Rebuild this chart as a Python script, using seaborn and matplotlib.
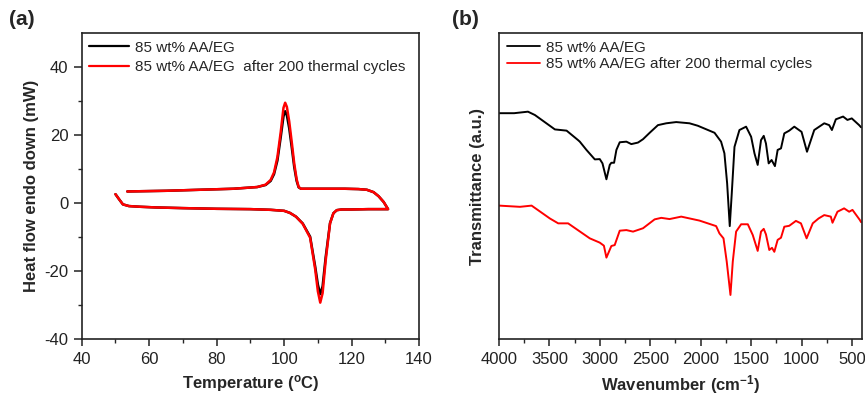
import numpy as np
import pandas as pd
import matplotlib
matplotlib.use("Agg")
import matplotlib.pyplot as plt
import seaborn as sns

# ---------------- DATA ----------------
# (a) DSC: heating (lower) curve, increasing temperature
dsc_heat_T = [50.0, 51.0, 52.2, 54.0, 57.3, 62, 70, 80, 90, 96, 100, 101.7, 103.5, 105.5,
              107.7, 109.2, 110.0, 110.7, 111.4, 112.3, 113.6, 114.6, 115.6, 117, 120, 125, 130.8]
dsc_heat_black = [2.6, 1.2, -0.4, -0.9, -1.1, -1.3, -1.5, -1.7, -1.8, -2.0, -2.3, -2.9, -4.0, -6.0,
                  -9.9, -18.7, -24.0, -26.8, -24.5, -16.0, -5.9, -3.0, -2.1, -1.9, -1.9, -1.8, -1.8]
dsc_heat_red = [2.6, 1.2, -0.4, -0.9, -1.1, -1.3, -1.5, -1.7, -1.8, -2.0, -2.3, -2.9, -4.0, -6.1,
                -10.2, -19.5, -26.0, -29.3, -26.5, -17.0, -6.0, -3.0, -2.1, -1.9, -1.9, -1.8, -1.8]
# cooling (upper) curve, decreasing temperature
dsc_cool_T = [130.8, 129.5, 128.0, 126.5, 124.5, 122, 118, 112, 106, 105.0, 104.3, 103.7, 103.0,
              102.3, 101.5, 100.8, 100.3, 99.8, 99.0, 98.0, 97.0, 96.0, 94.5, 92, 85, 75, 65, 53.5]
dsc_cool_black = [-1.8, 0.3, 2.0, 3.2, 3.9, 4.1, 4.2, 4.2, 4.2, 4.2, 4.6, 6.5, 10.5,
                  16.0, 22.0, 25.8, 27.0, 25.5, 19.5, 12.5, 8.5, 6.5, 5.3, 4.7, 4.2, 3.9, 3.6, 3.4]
dsc_cool_red = [-1.8, 0.3, 2.0, 3.2, 3.9, 4.1, 4.2, 4.2, 4.2, 4.2, 4.7, 7.0, 11.5,
                17.5, 24.0, 28.3, 29.5, 28.0, 21.0, 13.5, 9.0, 6.8, 5.4, 4.7, 4.2, 3.9, 3.6, 3.4]

# (b) FTIR: wavenumber (cm-1) and transmittance (a.u.)
ftir_wn_black = [4000, 3850, 3713, 3644, 3446, 3330, 3216, 3199, 3133, 3050, 3001, 2974, 2935,
                 2902, 2886, 2859, 2836, 2803, 2737, 2688, 2622, 2572, 2506, 2424, 2342, 2243,
                 2111, 2029, 1863, 1798, 1765, 1738, 1712, 1692, 1665, 1616, 1550, 1500, 1467,
                 1435, 1402, 1375, 1353, 1326, 1297, 1264, 1237, 1204, 1171, 1122, 1072, 1000,
                 946, 874, 775, 726, 699, 660, 588, 545, 502, 429, 410]
ftir_black = [73.8, 73.8, 74.3, 73.2, 68.5, 68.1, 65.0, 64.5, 61.8, 58.7, 58.8, 57.4, 52.2,
              56.9, 57.6, 57.6, 61.8, 64.3, 64.5, 63.7, 64.2, 65.3, 67.4, 69.9, 70.5, 70.9,
              70.5, 69.7, 67.4, 64.5, 60.7, 50.9, 36.9, 47.6, 62.8, 68.3, 69.4, 66.1, 60.7,
              56.9, 65.0, 66.4, 63.9, 57.4, 58.5, 56.5, 61.8, 62.3, 67.2, 68.1, 69.4, 67.7,
              61.2, 68.3, 70.5, 69.9, 68.3, 71.8, 72.7, 71.6, 72.1, 69.9, 69.2]
ftir_wn_red = [4000, 3792, 3677, 3496, 3413, 3315, 3100, 3001, 2960, 2935, 2886, 2853, 2803,
               2737, 2671, 2572, 2457, 2391, 2309, 2193, 2012, 1847, 1814, 1774, 1742, 1705,
               1682, 1649, 1599, 1533, 1484, 1435, 1402, 1375, 1353, 1320, 1293, 1270, 1237,
               1204, 1171, 1122, 1056, 1006, 950, 889, 831, 775, 710, 693, 644, 578, 528, 495,
               422, 410]
ftir_red = [43.6, 43.2, 43.6, 39.4, 37.8, 37.8, 32.9, 31.5, 30.5, 26.6, 30.4, 30.7, 35.4,
            35.6, 35.1, 36.2, 39.1, 39.6, 39.2, 40.0, 38.7, 36.9, 34.5, 32.9, 25.3, 14.4,
            25.3, 35.1, 37.5, 37.5, 34.0, 28.8, 35.1, 36.0, 34.2, 29.1, 29.8, 28.5, 32.4,
            33.1, 36.7, 37.0, 38.6, 37.8, 32.9, 37.8, 39.4, 40.5, 40.0, 38.0, 41.6, 42.7, 41.6,
            42.2, 38.9, 38.2]

lab_a1 = "85 wt% AA/EG"
lab_a2 = "85 wt% AA/EG  after 200 thermal cycles"
lab_b1 = "85 wt% AA/EG"
lab_b2 = "85 wt% AA/EG after 200 thermal cycles"

# ---------------- STYLE ----------------
sns.set_style("ticks")
plt.rcParams["font.family"] = ["Liberation Sans", "DejaVu Sans"]
plt.rcParams["mathtext.fontset"] = "custom"
plt.rcParams["mathtext.rm"] = "Liberation Sans"
plt.rcParams["mathtext.bf"] = "Liberation Sans:bold"
plt.rcParams["axes.unicode_minus"] = False
plt.rcParams["axes.linewidth"] = 1.2
plt.rcParams["axes.edgecolor"] = "#222222"
plt.rcParams["xtick.major.width"] = 1.1
plt.rcParams["ytick.major.width"] = 1.1
plt.rcParams["xtick.minor.width"] = 1.0
plt.rcParams["ytick.minor.width"] = 1.0
plt.rcParams["xtick.major.size"] = 5
plt.rcParams["ytick.major.size"] = 5.5
plt.rcParams["xtick.minor.size"] = 3
plt.rcParams["ytick.minor.size"] = 3
plt.rcParams["xtick.direction"] = "out"
plt.rcParams["ytick.direction"] = "out"

fig = plt.figure(figsize=(8.65, 3.96), dpi=100)
axA = fig.add_axes([0.0945, 0.1439, 0.3900, 0.7727])
axB = fig.add_axes([0.5769, 0.1439, 0.4197, 0.7727])

# ---------------- (a) DSC ----------------
dfa = pd.concat([
    pd.DataFrame({"T": dsc_heat_T + dsc_cool_T,
                  "H": dsc_heat_black + dsc_cool_black,
                  "s": lab_a1}),
    pd.DataFrame({"T": dsc_heat_T + dsc_cool_T,
                  "H": dsc_heat_red + dsc_cool_red,
                  "s": lab_a2}),
], ignore_index=True)
sns.lineplot(data=dfa, x="T", y="H", hue="s", sort=False, estimator=None,
             palette={lab_a1: "black", lab_a2: "#ff0000"}, linewidth=1.8, ax=axA)
axA.set_xlim(40, 140)
axA.set_ylim(-40, 50)
axA.set_xticks([40, 60, 80, 100, 120, 140])
axA.set_xticks(np.arange(50, 140, 20), minor=True)
axA.set_yticks([-40, -20, 0, 20, 40])
axA.set_yticks([-30, -10, 10, 30], minor=True)
axA.tick_params(labelsize=12, colors="#222222", pad=4)
axA.set_xlabel(r"Temperature ($\mathbf{^{o}}$C)", fontsize=12, fontweight="bold", labelpad=5)
axA.set_ylabel("Heat flow endo down (mW)", fontsize=12, fontweight="bold", labelpad=4)
legA = axA.legend(loc="upper left", frameon=False, fontsize=11, handlelength=2.6,
                  handletextpad=0.4, borderaxespad=0.1, labelspacing=0.35,
                  bbox_to_anchor=(0.0, 1.0))
for l in legA.get_lines():
    l.set_linewidth(1.6)

# ---------------- (b) FTIR ----------------
dfb = pd.concat([
    pd.DataFrame({"wn": ftir_wn_black, "T": ftir_black, "s": lab_b1}),
    pd.DataFrame({"wn": ftir_wn_red, "T": ftir_red, "s": lab_b2}),
], ignore_index=True)
sns.lineplot(data=dfb, x="wn", y="T", hue="s", sort=False, estimator=None,
             palette={lab_b1: "black", lab_b2: "#ff0000"}, linewidth=1.4, ax=axB)
axB.set_xlim(4000, 400)
axB.set_ylim(0, 100)
axB.set_xticks([4000, 3500, 3000, 2500, 2000, 1500, 1000, 500])
axB.set_xticks(np.arange(3750, 400, -500), minor=True)
axB.set_yticks([])
axB.tick_params(labelsize=12, colors="#222222", pad=4)
axB.set_xlabel(r"Wavenumber (cm$\mathbf{^{-1}}$)", fontsize=12, fontweight="bold", labelpad=5)
axB.set_ylabel("Transmittance (a.u.)", fontsize=12, fontweight="bold", labelpad=10)
legB = axB.legend(loc="upper left", frameon=False, fontsize=11, handlelength=2.2,
                  handletextpad=0.35, borderaxespad=0.1, labelspacing=0.15,
                  bbox_to_anchor=(0.0, 1.0))
for l in legB.get_lines():
    l.set_linewidth(1.3)

fig.text(0.010, 0.975, "(a)", fontsize=15, fontweight="bold", va="top", ha="left")
fig.text(0.522, 0.975, "(b)", fontsize=15, fontweight="bold", va="top", ha="left")

fig.savefig("out.png", dpi=100)
